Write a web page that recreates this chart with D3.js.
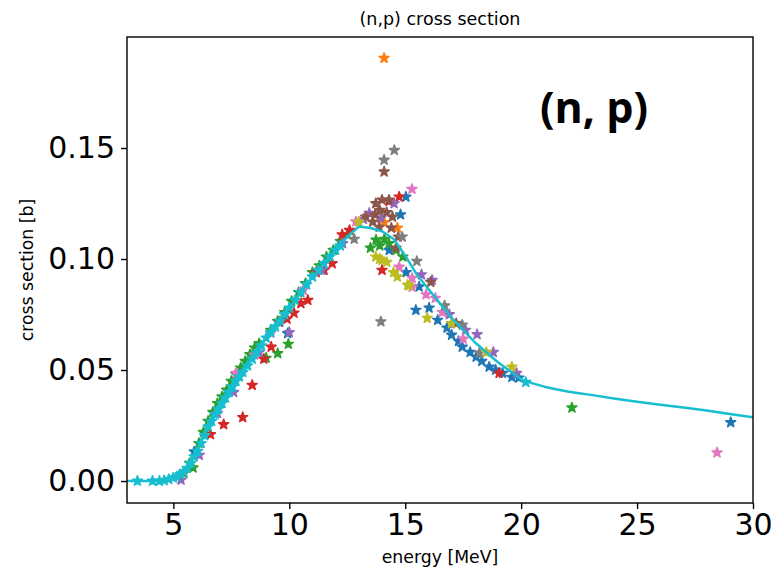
<!DOCTYPE html>
<html>
<head>
<meta charset="utf-8">
<script src="https://cdn.jsdelivr.net/npm/d3@7"></script>
<style>
  html, body { margin: 0; padding: 0; background: #fff; }
  svg { display: block; }
  text { font-family: "DejaVu Sans", sans-serif; fill: #000; }
</style>
</head>
<body>
<svg id="chart" width="774" height="571"></svg>
<script>
// ---------------- data ----------------
const xTicks = [5, 10, 15, 20, 25, 30];
const yTicks = [0.00, 0.05, 0.10, 0.15];

// evaluated curve
const curveE = [3.0,3.5,4.0,4.5,5.0,5.5,6.0,6.5,7.0,7.5,8.0,9.0,10.0,11.0,12.0,12.5,13.0,13.5,14.0,14.5,15.0,15.5,16.0,17.0,18.0,19.0,20.0,20.5,21.0,21.5,22.0,22.5,23.0,24.0,25.0,26.0,27.0,28.0,29.0,30.0];
const curveXS = [0,0,0,0.0003,0.0015,0.0045,0.0128,0.0245,0.033,0.041,0.049,0.0645,0.078,0.092,0.104,0.11,0.1146,0.114,0.1125,0.109,0.1015,0.093,0.0865,0.0735,0.0625,0.0535,0.0458,0.0440,0.0425,0.0413,0.0403,0.0395,0.0388,0.0372,0.0357,0.0344,0.0331,0.0318,0.0302,0.0287];

// measured data sets (energy [MeV], cross section [b])
const blueE  = [5.9, 9.93, 14.31, 14.8, 15.03, 15.04, 15.46, 15.6, 16.03, 16.4, 16.8, 17.0, 17.3, 17.46, 17.8, 18.06, 18.3, 18.62, 18.9, 19.2, 19.6, 19.9, 29.04];
const blueXS = [0.0132, 0.0665, 0.104, 0.12, 0.128, 0.094, 0.077, 0.0875, 0.078, 0.0725, 0.069, 0.0658, 0.063, 0.0604, 0.058, 0.0559, 0.054, 0.0514, 0.050, 0.0486, 0.0468, 0.0465, 0.0264];

const orangeE  = [14.09, 14.66, 14.1];
const orangeXS = [0.1905, 0.114, 0.1165];

const greenE  = [5.45, 5.7, 5.85, 6.1, 6.3, 6.5, 6.7, 6.9, 7.1, 7.3, 7.5, 7.7, 7.9, 8.1, 8.3, 8.5, 8.7, 9.0, 9.5, 9.96, 9.2, 9.5, 9.8, 10.1, 10.4, 10.7, 11.0, 11.3, 11.6, 11.9, 12.2, 12.5, 13.5, 13.74, 13.9, 14.1, 14.3, 14.6, 14.9, 22.19];
const greenXS = [0.0035, 0.008, 0.006, 0.017, 0.022, 0.027, 0.031, 0.035, 0.038, 0.041, 0.045, 0.048, 0.051, 0.054, 0.057, 0.060, 0.062, 0.0554, 0.0575, 0.0617, 0.068, 0.072, 0.076, 0.081, 0.085, 0.089, 0.094, 0.097, 0.101, 0.104, 0.108, 0.111, 0.105, 0.1086, 0.106, 0.109, 0.107, 0.104, 0.101, 0.033];

const redE  = [6.6, 7.17, 7.99, 8.4, 8.9, 9.22, 9.57, 9.9, 10.2, 10.5, 10.8, 11.16, 11.5, 11.85, 12.28, 12.6, 14.0, 14.3, 14.74, 19.05];
const redXS = [0.021, 0.0255, 0.0287, 0.0432, 0.055, 0.0604, 0.0716, 0.073, 0.0757, 0.080, 0.0815, 0.094, 0.095, 0.098, 0.111, 0.113, 0.095, 0.126, 0.128, 0.0486];

const purpleE  = [5.33, 6.12, 6.9, 7.6, 8.7, 10.0, 11.4, 12.3, 13.2, 13.45, 13.95, 14.52, 15.7, 16.16, 16.9, 17.6, 18.1, 18.8, 19.8];
const purpleXS = [0.0005, 0.0117, 0.0306, 0.040, 0.058, 0.067, 0.095, 0.107, 0.118, 0.1207, 0.1185, 0.125, 0.093, 0.0905, 0.075, 0.068, 0.066, 0.058, 0.0486];

const brownE  = [13.3, 13.6, 13.73, 13.7, 13.88, 13.9, 14.0, 14.09, 14.2, 14.3, 14.4, 14.45, 14.6, 14.7, 16.1, 17.2];
const brownXS = [0.119, 0.1167, 0.125, 0.12, 0.1144, 0.122, 0.1266, 0.1393, 0.121, 0.1266, 0.114, 0.119, 0.105, 0.110, 0.0896, 0.071];

const pinkE  = [7.7, 8.5, 9.2, 10.6, 12.87, 14.74, 15.29, 15.3, 15.3, 15.9, 16.3, 16.6, 17.5, 28.45];
const pinkXS = [0.0486, 0.0568, 0.0667, 0.086, 0.1168, 0.0964, 0.1315, 0.0914, 0.0874, 0.084, 0.0824, 0.076, 0.064, 0.0128];

const grayE  = [12.8, 13.95, 14.09, 14.53, 14.87, 15.5, 16.7, 17.46, 18.2];
const grayXS = [0.109, 0.0718, 0.1446, 0.149, 0.11, 0.099, 0.079, 0.0703, 0.0577];

const oliveE  = [13.0, 13.73, 13.9, 14.0, 14.2, 14.5, 14.66, 15.1, 15.17, 15.95, 17.0, 18.5, 19.6];
const oliveXS = [0.1167, 0.101, 0.100, 0.0995, 0.0986, 0.094, 0.092, 0.0883, 0.088, 0.0734, 0.071, 0.058, 0.0514];

const cyanE  = [3.45, 4.1, 4.4, 4.6, 4.8, 5.0, 5.15, 5.3, 5.45, 5.6, 5.75, 5.9, 6.05, 6.2, 6.35, 6.5, 6.65, 6.8, 6.95, 7.1, 7.25, 7.4, 7.55, 7.7, 7.85, 8.0, 8.2, 8.4, 8.6, 8.8, 9.0, 9.2, 9.4, 9.6, 9.8, 10.0, 10.25, 10.5, 10.75, 11.0, 11.25, 11.5, 11.75, 12.0, 12.2, 20.2];
const cyanXS = [0.0, 0.0, 0.0, 0.0003, 0.0008, 0.0015, 0.002, 0.003, 0.0042, 0.0058, 0.008, 0.011, 0.0135, 0.017, 0.0205, 0.0245, 0.027, 0.030, 0.0325, 0.035, 0.0375, 0.040, 0.0425, 0.045, 0.047, 0.049, 0.052, 0.055, 0.058, 0.061, 0.0645, 0.067, 0.0695, 0.072, 0.075, 0.078, 0.0815, 0.085, 0.0885, 0.092, 0.095, 0.098, 0.101, 0.104, 0.106, 0.0445];

const seriesList = [
  {E: blueE,   XS: blueXS,   color: "#1f77b4"},
  {E: orangeE, XS: orangeXS, color: "#ff7f0e"},
  {E: greenE,  XS: greenXS,  color: "#2ca02c"},
  {E: redE,    XS: redXS,    color: "#d62728"},
  {E: purpleE, XS: purpleXS, color: "#9467bd"},
  {E: brownE,  XS: brownXS,  color: "#8c564b"},
  {E: pinkE,   XS: pinkXS,   color: "#e377c2"},
  {E: grayE,   XS: grayXS,   color: "#7f7f7f"},
  {E: oliveE,  XS: oliveXS,  color: "#bcbd22"},
  {E: cyanE,   XS: cyanXS,   color: "#17becf"}
];

// ---------------- layout ----------------
const svg = d3.select("#chart");
const mLeft = 127, mRight = 753, mTop = 37, mBottom = 503;

const x = d3.scaleLinear().domain([3, 30]).range([mLeft, mRight]);
const y = d3.scaleLinear().domain([-0.0099, 0.2]).range([mBottom, mTop]);

// axes
const xAxis = d3.axisBottom(x).tickValues(xTicks).tickSize(6).tickPadding(5).tickFormat(d3.format("d"));
const yAxis = d3.axisLeft(y).tickValues(yTicks).tickSize(6).tickPadding(6).tickFormat(d3.format(".2f"));

const gx = svg.append("g").attr("transform", `translate(0,${mBottom})`).call(xAxis);
const gy = svg.append("g").attr("transform", `translate(${mLeft},0)`).call(yAxis);
[gx, gy].forEach(g => {
  g.select(".domain").remove();
  g.selectAll(".tick line").attr("stroke", "#000").attr("stroke-width", 1.4);
  g.selectAll(".tick text").attr("font-family", "DejaVu Sans").attr("font-size", 30).attr("fill", "#000");
});

// data
svg.append("clipPath").attr("id", "clip").append("rect")
  .attr("x", mLeft).attr("y", mTop).attr("width", mRight - mLeft).attr("height", mBottom - mTop);
const plot = svg.append("g").attr("clip-path", "url(#clip)");

const star = d3.symbol().type(d3.symbolStar).size(30);
seriesList.forEach(s => {
  const pts = s.E.map((e, i) => [e, s.XS[i]]);
  plot.append("g").selectAll("path").data(pts).join("path")
    .attr("d", star)
    .attr("transform", d => `translate(${x(d[0])},${y(d[1])})`)
    .attr("fill", s.color)
    .attr("stroke", s.color)
    .attr("stroke-width", 1.6)
    .attr("stroke-linejoin", "round");
});

const line = d3.line().x(d => x(d[0])).y(d => y(d[1]));
plot.append("path")
  .datum(curveE.map((e, i) => [e, curveXS[i]]))
  .attr("d", line)
  .attr("fill", "none")
  .attr("stroke", "#17becf")
  .attr("stroke-width", 2.5)
  .attr("stroke-linejoin", "round");

// frame
svg.append("rect")
  .attr("x", mLeft).attr("y", mTop).attr("width", mRight - mLeft).attr("height", mBottom - mTop)
  .attr("fill", "none").attr("stroke", "#000").attr("stroke-width", 1.4);

// texts
svg.append("text").attr("x", (mLeft + mRight) / 2).attr("y", 25)
  .attr("text-anchor", "middle").attr("font-size", 17.5).text("(n,p) cross section");
svg.append("text").attr("x", (mLeft + mRight) / 2).attr("y", 563)
  .attr("text-anchor", "middle").attr("font-size", 17.3).text("energy [MeV]");
svg.append("text").attr("transform", `translate(33,${(mTop + mBottom) / 2}) rotate(-90)`)
  .attr("text-anchor", "middle").attr("font-size", 17.3).text("cross section [b]");
svg.append("text").attr("x", 540).attr("y", 123)
  .attr("font-weight", "bold").attr("font-size", 43)
  .style("font-family", "'Open Sans', sans-serif").text("(n, p)");
</script>
</body>
</html>
